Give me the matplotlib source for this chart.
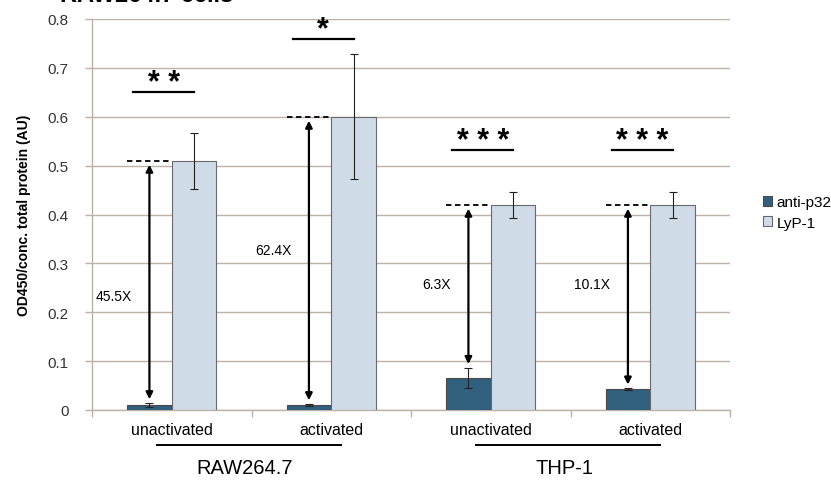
import numpy as np
import matplotlib.pyplot as plt

plt.rcParams['font.family'] = ['Liberation Sans', 'DejaVu Sans']

# ------------------------------------------------------------
# data
# ------------------------------------------------------------
conditions = ["unactivated", "activated", "unactivated", "activated"]
cell_lines = ["RAW264.7", "THP-1"]
series_names = ["anti-p32", "LyP-1"]

anti_p32 = [0.010, 0.010, 0.066, 0.042]
anti_p32_err = [0.004, 0.002, 0.020, 0.002]
lyp1 = [0.51, 0.60, 0.42, 0.42]
lyp1_err = [0.057, 0.128, 0.027, 0.027]

fold_labels = ["45.5X", "62.4X", "6.3X", "10.1X"]
fold_label_y = [0.234, 0.328, 0.258, 0.258]
stars = ["**", "*", "***", "***"]
star_line_y = [0.650, 0.760, 0.531, 0.531]

dark = "#31607f"
light = "#cfdbe7"
grid_col = "#bcb2a5"

# ------------------------------------------------------------
# figure
# ------------------------------------------------------------
fig = plt.figure(figsize=(8.31, 4.81), dpi=100)
ax = fig.add_axes([92 / 831, 1 - 411 / 481, 638 / 831, 391 / 481])

x = np.arange(len(conditions))
w = 0.28

ax.bar(x - w / 2, anti_p32, w, color=dark, edgecolor="#4a4a4a", lw=0.8,
       label=series_names[0], zorder=3)
ax.bar(x + w / 2, lyp1, w, color=light, edgecolor="#6a6a6a", lw=0.8,
       label=series_names[1], zorder=3)
ax.errorbar(x - w / 2, anti_p32, yerr=anti_p32_err, fmt="none", ecolor="#222222",
            elinewidth=0.8, capsize=3, capthick=0.8, zorder=4)
ax.errorbar(x + w / 2, lyp1, yerr=lyp1_err, fmt="none", ecolor="#222222",
            elinewidth=0.8, capsize=3, capthick=0.8, zorder=4)

# fold-change arrows and reference lines
for i in range(len(conditions)):
    xa = x[i] - w / 2
    top = lyp1[i]
    bottom = anti_p32[i] + anti_p32_err[i] + 0.008
    ax.plot([x[i] - w, x[i]], [top, top], ls=(0, (3, 2)), color="black", lw=1.3, zorder=5)
    ax.annotate("", xy=(xa, bottom), xytext=(xa, top - 0.008),
                arrowprops=dict(arrowstyle="<|-|>", color="black", lw=1.6,
                                mutation_scale=10, shrinkA=0, shrinkB=0), zorder=5)
    ax.text(xa - 0.11, fold_label_y[i], fold_labels[i], ha="right", va="center",
            fontsize=10, zorder=5)

    # significance marks
    xc = x[i] - 0.05
    ax.plot([xc - 0.19, xc + 0.19], [star_line_y[i]] * 2, color="black", lw=1.6, zorder=5)
    ax.text(xc, star_line_y[i] - 0.012, " ".join(stars[i]), ha="center", va="bottom",
            fontsize=22, fontweight="bold", zorder=5)

ax.set_xlim(-0.5, 3.5)
ax.set_ylim(0, 0.8)
ax.set_yticks(np.arange(0, 0.81, 0.1))
ax.set_yticklabels(["0"] + [f"{v:.1f}" for v in np.arange(0.1, 0.81, 0.1)],
                   fontsize=11, color="#333333")
ax.yaxis.grid(True, color=grid_col, lw=1.0, zorder=0)
ax.set_axisbelow(True)

ax.set_xticks([-0.5, 0.5, 1.5, 2.5, 3.5])
ax.set_xticklabels([])
ax.tick_params(axis="x", length=5, color=grid_col, width=1)
ax.tick_params(axis="y", length=5, color=grid_col, width=1, pad=12)
for t, lab in zip(x, conditions):
    ax.text(t, -0.024, lab, ha="center", va="top", fontsize=11.5)

for side in ["top", "right"]:
    ax.spines[side].set_visible(False)
for side in ["left", "bottom"]:
    ax.spines[side].set_color(grid_col)
    ax.spines[side].set_linewidth(1.0)

ax.set_ylabel("OD450/conc. total protein (AU)", fontsize=10, fontweight="bold",
              labelpad=12)

# cell line groups
for g, name in enumerate(cell_lines):
    ax.plot([2 * g - 0.09, 2 * g + 1.06], [-0.071, -0.071], color="black", lw=1.4,
            clip_on=False)
    ax.text(2 * g + 0.46, -0.098, name, ha="center", va="top", fontsize=14.5)

ax.legend(loc="center left", bbox_to_anchor=(1.03, 0.505), frameon=False,
          fontsize=11, handlelength=0.6, handleheight=0.6, handletextpad=0.3,
          labelspacing=0.4)

fig.text(60 / 831, 1 - 2 / 481, "RAW264.7 cells", fontsize=17, fontweight="bold",
         va="baseline", ha="left")

fig.savefig("out.png", dpi=100)
